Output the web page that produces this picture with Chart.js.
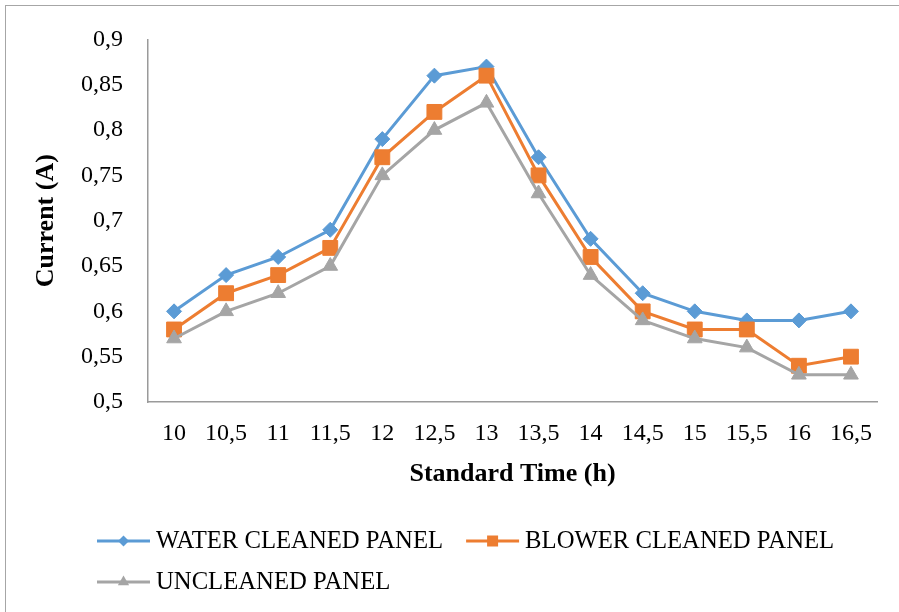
<!DOCTYPE html>
<html>
<head>
<meta charset="utf-8">
<script src="https://cdn.jsdelivr.net/npm/chart.js@4/dist/chart.umd.min.js"></script>
<style>
  html, body { margin: 0; padding: 0; background: #fff; }
  #wrap { width: 899px; height: 612px; position: relative; }
</style>
</head>
<body>
<div id="wrap"><canvas id="c" width="899" height="612"></canvas></div>
<script>
// Standard time of day (h) for each measurement
const xLabels = ['10', '10,5', '11', '11,5', '12', '12,5', '13', '13,5', '14', '14,5', '15', '15,5', '16', '16,5'];

// Measured panel current (A)
const waterCleaned  = [0.60, 0.64, 0.66, 0.69, 0.79, 0.86, 0.87, 0.77, 0.68, 0.62, 0.60, 0.59, 0.59, 0.60];
const blowerCleaned = [0.58, 0.62, 0.64, 0.67, 0.77, 0.82, 0.86, 0.75, 0.66, 0.60, 0.58, 0.58, 0.54, 0.55];
const uncleaned     = [0.57, 0.60, 0.62, 0.65, 0.75, 0.80, 0.83, 0.73, 0.64, 0.59, 0.57, 0.56, 0.53, 0.53];

const seriesNames = ['WATER CLEANED PANEL', 'BLOWER CLEANED PANEL', 'UNCLEANED PANEL'];

// Y axis ticks and their decimal-comma labels
const yTickValues = [0.5, 0.55, 0.6, 0.65, 0.7, 0.75, 0.8, 0.85, 0.9];
const yTickLabels = ['0,5', '0,55', '0,6', '0,65', '0,7', '0,75', '0,8', '0,85', '0,9'];

const FONT = '"Liberation Serif", "Times New Roman", serif';
const BLUE = '#5B9BD5', ORANGE = '#ED7D31', GRAY = '#A5A5A5';
const AXIS = '#9a9a9a';

function series(label, data, color, style, radius, order) {
  return {
    label, data,
    borderColor: color, backgroundColor: color,
    borderWidth: 3, tension: 0,
    pointStyle: style, pointRadius: radius, pointHoverRadius: radius,
    pointBorderWidth: 1, pointBorderColor: color, pointBackgroundColor: color,
    order
  };
}

// Draws a small line-with-marker swatch for the legend
function drawSwatch(ctx, x, y, len, color, style) {
  ctx.save();
  ctx.strokeStyle = color; ctx.fillStyle = color; ctx.lineWidth = 3;
  ctx.beginPath(); ctx.moveTo(x, y); ctx.lineTo(x + len, y); ctx.stroke();
  const cx = x + len / 2;
  ctx.beginPath();
  if (style === 'rectRot') {
    const r = 5.5;
    ctx.moveTo(cx, y - r); ctx.lineTo(cx + r, y); ctx.lineTo(cx, y + r); ctx.lineTo(cx - r, y);
  } else if (style === 'rect') {
    ctx.rect(cx - 5.5, y - 5.5, 11, 11);
  } else {
    const r = 6.5;
    ctx.moveTo(cx, y - r); ctx.lineTo(cx + r * 0.866, y + r * 0.5); ctx.lineTo(cx - r * 0.866, y + r * 0.5);
  }
  ctx.closePath(); ctx.fill();
  ctx.restore();
}

const frameAndLegend = {
  id: 'frameAndLegend',
  beforeDraw(chart) {
    const ctx = chart.ctx;
    ctx.save();
    ctx.fillStyle = '#fff';
    ctx.fillRect(0, 0, chart.width, chart.height);
    ctx.strokeStyle = '#a6a6a6'; ctx.lineWidth = 1;
    ctx.strokeRect(5.5, 5.5, chart.width + 20, chart.height + 20);
    ctx.restore();
  },
  afterDraw(chart) {
    const ctx = chart.ctx;
    ctx.save();
    ctx.font = '24.7px ' + FONT;
    ctx.textBaseline = 'middle';
    ctx.fillStyle = '#000';
    const startX = 97, lineLen = 53, gap = 6, itemGap = 23, rowH = 41, maxX = 885;
    let x = startX, y = 541;
    chart.data.datasets.forEach((ds) => {
      const w = lineLen + gap + ctx.measureText(ds.label).width;
      if (x > startX && x + w > maxX) { x = startX; y += rowH; }
      drawSwatch(ctx, x, y, lineLen, ds.borderColor, ds.pointStyle);
      ctx.fillText(ds.label, x + lineLen + gap, y + 1);
      x += w + itemGap;
    });
    ctx.restore();
  }
};

new Chart(document.getElementById('c'), {
  type: 'line',
  data: {
    labels: xLabels,
    datasets: [
      series(seriesNames[0], waterCleaned, BLUE, 'rectRot', 7.5, 3),
      series(seriesNames[1], blowerCleaned, ORANGE, 'rect', 10.5, 2),
      series(seriesNames[2], uncleaned, GRAY, 'triangle', 8.5, 1)
    ]
  },
  options: {
    responsive: false,
    animation: false,
    events: [],
    layout: { padding: { left: 31, top: 36, right: 22, bottom: 122.4 } },
    plugins: { legend: { display: false }, tooltip: { enabled: false } },
    scales: {
      x: {
        type: 'category',
        offset: true,
        grid: { display: false, drawTicks: false },
        border: { display: true, color: AXIS, width: 1.5 },
        ticks: { color: '#000', font: { family: FONT, size: 24 }, padding: 17, maxRotation: 0, autoSkip: false },
        title: { display: true, text: 'Standard Time (h)', color: '#000',
                 font: { family: FONT, size: 26, weight: 'bold' }, padding: 0 },
        afterFit(scale) { scale.height = 87.6; }
      },
      y: {
        min: 0.5, max: 0.9,
        grid: { display: false, drawTicks: false },
        border: { display: true, color: AXIS, width: 1.5 },
        afterBuildTicks(scale) { scale.ticks = yTickValues.map(v => ({ value: v })); },
        ticks: {
          color: '#000', font: { family: FONT, size: 24 }, padding: 25,
          callback: (value, index) => yTickLabels[index]
        },
        title: { display: true, text: 'Current (A)', color: '#000',
                 font: { family: FONT, size: 26, weight: 'bold' }, padding: 0 },
        afterFit(scale) { scale.width = 117; }
      }
    }
  },
  plugins: [frameAndLegend]
});
</script>
</body>
</html>
